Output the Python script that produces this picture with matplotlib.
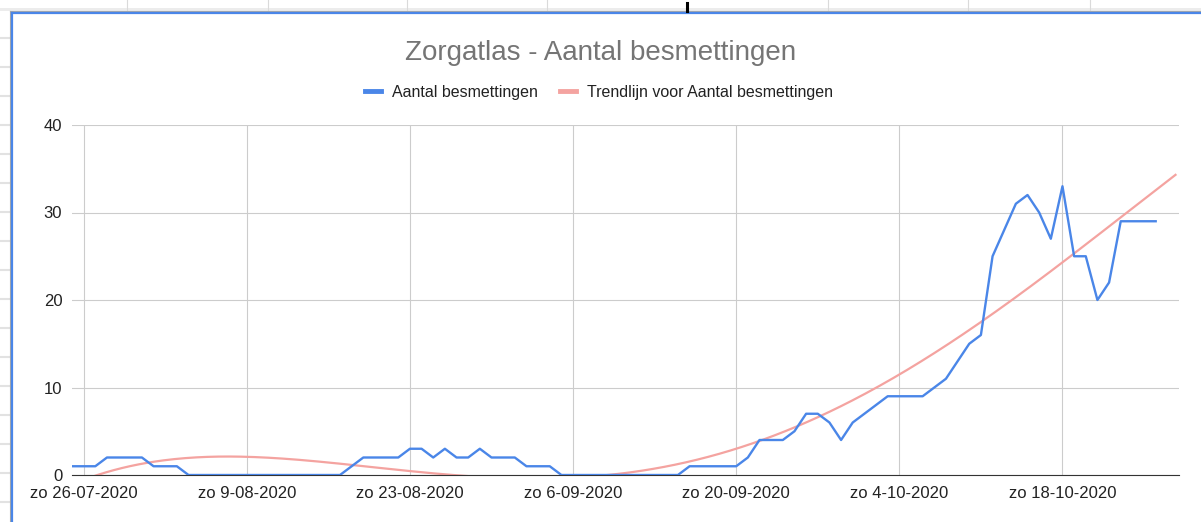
import numpy as np
import pandas as pd
import matplotlib
matplotlib.use('Agg')
import matplotlib.pyplot as plt
from matplotlib.lines import Line2D
from matplotlib.patches import Rectangle

plt.rcParams['font.family'] = ['Liberation Sans', 'DejaVu Sans']

# dagelijkse waarden vanaf za 25-07-2020
start_datum = '2020-07-25'
besmettingen = [1, 1, 1, 2, 2, 2, 2, 1, 1, 1,
                0, 0, 0, 0, 0, 0, 0, 0, 0, 0, 0, 0, 0, 0,
                1, 2, 2, 2, 2, 3, 3, 2, 3, 2, 2, 3, 2, 2, 2, 1, 1, 1,
                0, 0, 0, 0, 0, 0, 0, 0, 0, 0, 0,
                1, 1, 1, 1, 1, 2, 4, 4, 4, 5, 7, 7, 6, 4, 6, 7, 8,
                9, 9, 9, 9, 10, 11, 13, 15, 16, 25, 28, 31, 32, 30, 27,
                33, 25, 25, 20, 22, 29, 29, 29, 29]
tick_datums = ['2020-07-26', '2020-08-09', '2020-08-23', '2020-09-06',
               '2020-09-20', '2020-10-04', '2020-10-18']
tick_labels = ['zo 26-07-2020', 'zo 9-08-2020', 'zo 23-08-2020', 'zo 6-09-2020',
               'zo 20-09-2020', 'zo 4-10-2020', 'zo 18-10-2020']
y_ticks = [0, 10, 20, 30, 40]

datums = pd.date_range(start_datum, periods=len(besmettingen), freq='D')
dagen = np.arange(len(besmettingen))

W, H = 1201, 522
fig = plt.figure(figsize=(W / 100, H / 100), dpi=100)

# stukje spreadsheet rond de grafiek
fig.add_artist(Rectangle((0, (H - 11) / H), 1, 3 / H, transform=fig.transFigure,
                         color='#ececec', lw=0))
for xp in [127, 268, 407, 547, 828, 968, 1090]:
    fig.add_artist(Line2D([xp / W, xp / W], [1, (H - 10) / H], color='#dadada', lw=0.8))
for yp in range(38, H, 29):
    fig.add_artist(Line2D([0, 9 / W], [(H - yp) / H, (H - yp) / H], color='#e2e2e2', lw=1.5))
fig.add_artist(Line2D([9.5 / W, 9.5 / W], [0, (H - 11) / H], color='#a8a8a8', lw=0.8))
fig.add_artist(Line2D([9.5 / W, 1], [(H - 11) / H, (H - 11) / H], color='#a8a8a8', lw=0.8))
fig.add_artist(Line2D([11.5 / W, 11.5 / W], [0, (H - 12.5) / H], color='#4a86e8', lw=1.6))
fig.add_artist(Line2D([11.5 / W, 1], [(H - 12.5) / H, (H - 12.5) / H], color='#4a86e8', lw=1.6))
fig.add_artist(Line2D([687 / W, 687 / W], [(H - 3) / H, (H - 11) / H], color='black', lw=2.2))

ax = fig.add_axes([72 / W, (H - 475) / H, (1179 - 72) / W, (475 - 125) / H])

x0 = pd.Timestamp(start_datum)
ax.set_xlim(x0, x0 + pd.Timedelta(days=95))
ax.set_ylim(0, 40)

# polynomiale trendlijn (graad 4)
coef = np.polyfit(dagen, besmettingen, 4)
xt = np.linspace(0, 94.7, 400)
ax.plot(x0 + pd.to_timedelta(xt, unit='D'), np.polyval(coef, xt), color='#f4a3a0',
        lw=1.6, zorder=3, label='Trendlijn voor Aantal besmettingen')

ax.plot(datums, besmettingen, color='#4a86e8', lw=1.7, zorder=4,
        label='Aantal besmettingen')

ax.set_yticks(y_ticks)
ax.set_xticks(pd.to_datetime(tick_datums))
ax.set_xticklabels(tick_labels)
ax.grid(True, color='#cccccc', lw=0.8)
ax.set_axisbelow(True)
ax.tick_params(axis='x', length=0, labelsize=12, colors='#222222', pad=8)
ax.tick_params(axis='y', length=0, labelsize=12, colors='#222222', pad=7)
for s in ['top', 'right', 'left']:
    ax.spines[s].set_visible(False)
ax.spines['bottom'].set_color('#333333')
ax.spines['bottom'].set_zorder(3.5)

handles, labels = ax.get_legend_handles_labels()
leg = fig.legend(handles[::-1], labels[::-1], ncol=2, loc='center',
                 bbox_to_anchor=(599 / W, (H - 92.5) / H), frameon=False,
                 fontsize=11.5, handlelength=1.0, handletextpad=0.7,
                 columnspacing=1.4, labelcolor='#222222')
for ln in leg.get_lines():
    ln.set_linewidth(3.5)

fig.text(0.5, (H - 52.5) / H, 'Zorgatlas - Aantal besmettingen', ha='center', va='center',
         fontsize=20, color='#757575')

plt.savefig('out.png', dpi=100)
